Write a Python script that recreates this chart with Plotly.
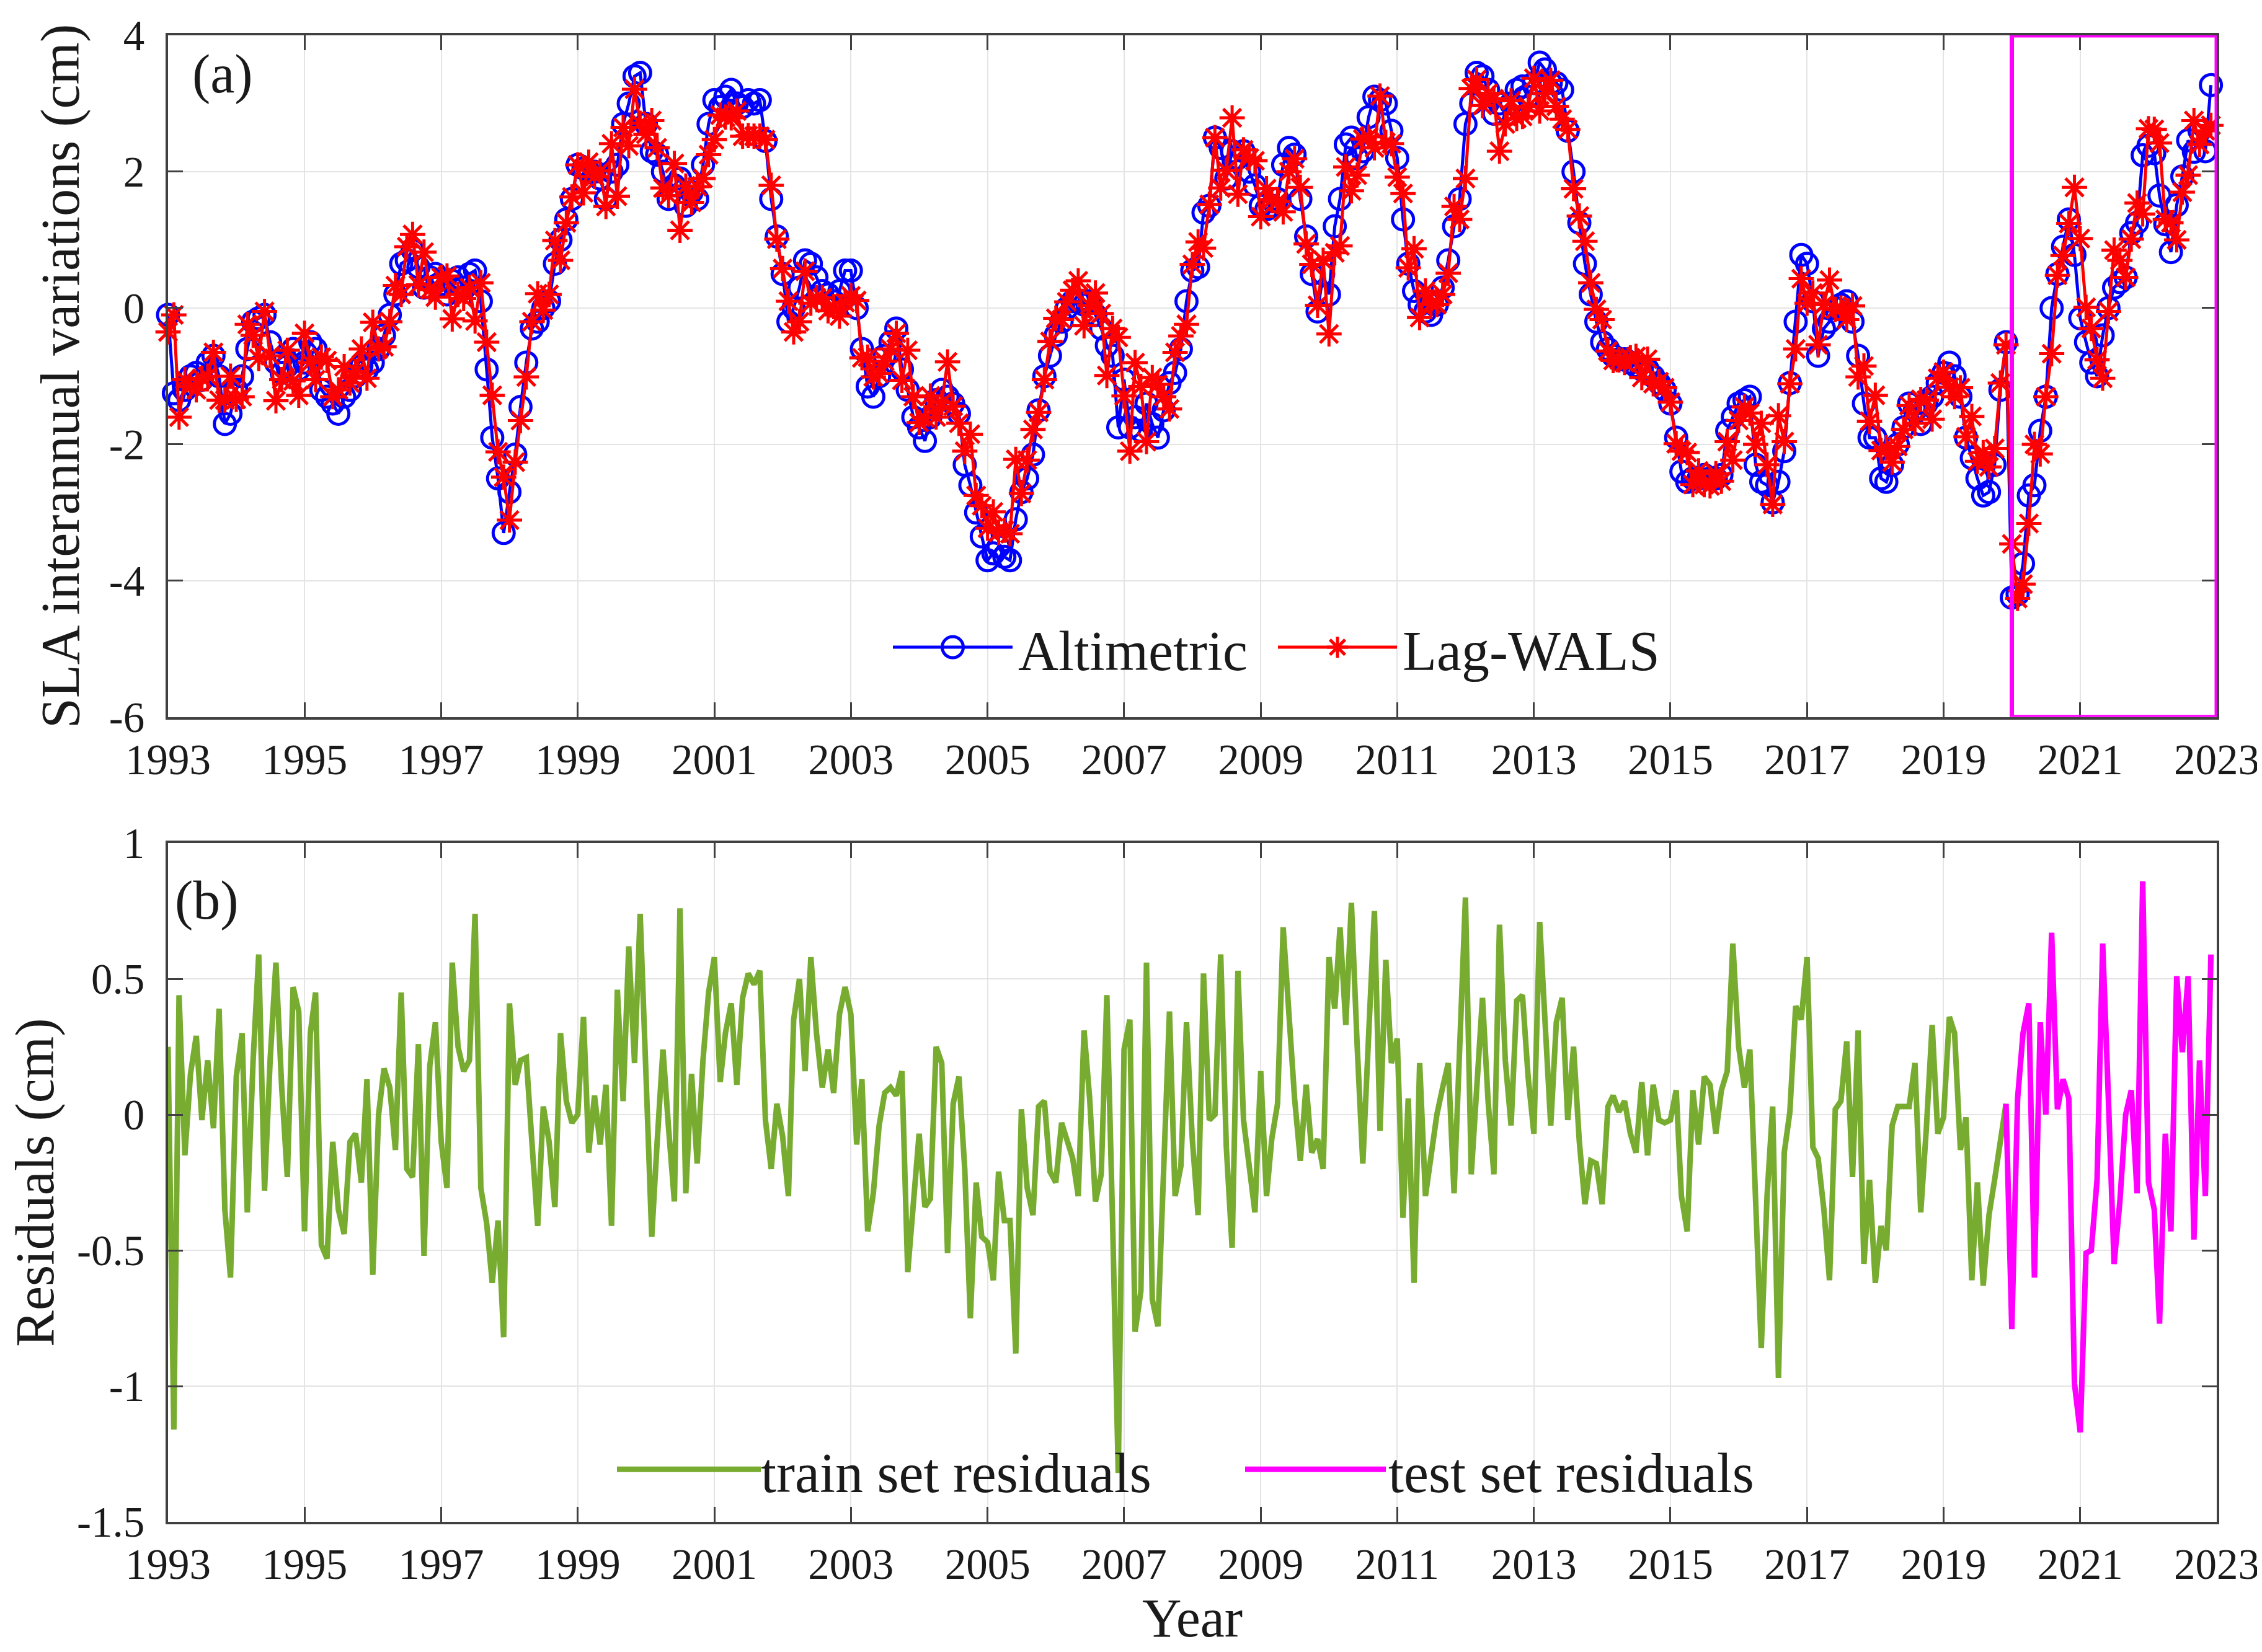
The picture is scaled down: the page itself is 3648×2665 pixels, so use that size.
import pandas as pd
import plotly.graph_objects as go

# monthly SLA interannual variations (cm), Jan 1993 - Dec 2022
altimetric = [
    -0.10, -1.25, -1.35, -1.20, -1.00, -0.95, -1.05, -0.80, -0.70, -1.00, -1.70, -1.55,  # 1993
    -1.20, -1.00, -0.60, -0.20, -0.15, -0.10, -0.50, -0.80, -0.95, -0.85, -0.60, -0.90,  # 1994
    -0.80, -0.50, -0.60, -1.20, -1.30, -1.40, -1.55, -1.30, -1.20, -1.00, -0.85, -0.90,  # 1995
    -0.80, -0.60, -0.40, -0.10, 0.20, 0.65, 0.70, 0.85, 0.60, 0.30, 0.45, 0.50,  # 1996
    0.35, 0.20, 0.40, 0.45, 0.30, 0.50, 0.55, 0.10, -0.90, -1.90, -2.50, -3.30,  # 1997
    -2.70, -2.15, -1.45, -0.80, -0.30, -0.20, 0.00, 0.10, 0.65, 1.00, 1.30, 1.60,  # 1998
    2.10, 2.05, 2.00, 2.00, 1.90, 1.60, 2.00, 2.10, 2.70, 3.00, 3.40, 3.45,  # 1999
    2.70, 2.30, 2.25, 2.00, 1.60, 1.80, 1.90, 1.50, 1.70, 1.60, 2.10, 2.70,  # 2000
    3.05, 2.95, 3.10, 3.20, 3.00, 2.95, 3.05, 3.00, 3.05, 2.45, 1.60, 1.05,  # 2001
    0.50, -0.20, 0.00, 0.30, 0.70, 0.65, 0.45, 0.25, 0.20, 0.10, 0.25, 0.55,  # 2002
    0.55, 0.00, -0.60, -1.15, -1.30, -1.00, -0.70, -0.50, -0.30, -0.90, -1.20, -1.60,  # 2003
    -1.75, -1.95, -1.60, -1.35, -1.20, -1.30, -1.40, -1.55, -2.30, -2.60, -3.00, -3.35,  # 2004
    -3.70, -3.60, -3.50, -3.65, -3.70, -3.10, -2.70, -2.50, -2.15, -1.50, -1.00, -0.70,  # 2005
    -0.40, -0.20, 0.00, 0.10, 0.10, 0.05, 0.10, -0.10, -0.30, -0.55, -0.70, -1.75,  # 2006
    -1.05, -1.75, -1.60, -1.80, -1.40, -1.70, -1.90, -1.50, -1.10, -0.95, -0.60, 0.10,  # 2007
    0.55, 0.60, 1.40, 1.50, 2.50, 2.35, 1.90, 2.30, 2.20, 2.30, 2.00, 1.80,  # 2008
    1.50, 1.45, 1.50, 1.60, 2.10, 2.35, 2.25, 1.60, 1.05, 0.50, -0.05, 0.50,  # 2009
    0.20, 1.20, 1.60, 2.40, 2.50, 2.20, 2.30, 2.80, 3.10, 3.05, 3.00, 2.60,  # 2010
    2.20, 1.30, 0.65, 0.25, 0.05, -0.05, -0.10, 0.05, 0.30, 0.70, 1.20, 1.60,  # 2011
    2.70, 3.00, 3.45, 3.40, 3.20, 2.85, 3.00, 2.90, 3.00, 3.20, 3.25, 3.10,  # 2012
    3.30, 3.60, 3.50, 3.30, 3.30, 3.20, 2.60, 2.00, 1.25, 0.65, 0.20, -0.20,  # 2013
    -0.50, -0.60, -0.70, -0.75, -0.75, -0.80, -0.85, -0.90, -0.90, -1.00, -1.10, -1.20,  # 2014
    -1.40, -1.90, -2.40, -2.55, -2.50, -2.50, -2.45, -2.50, -2.50, -2.45, -1.80, -1.60,  # 2015
    -1.40, -1.35, -1.30, -2.30, -2.55, -2.60, -2.85, -2.55, -2.10, -1.10, -0.20, 0.78,  # 2016
    0.65, 0.10, -0.70, -0.30, -0.20, 0.00, 0.05, 0.10, -0.20, -0.70, -1.40, -1.90,  # 2017
    -1.90, -2.50, -2.55, -2.30, -2.00, -1.75, -1.40, -1.50, -1.70, -1.40, -1.30, -1.10,  # 2018
    -0.95, -0.80, -1.00, -1.30, -1.90, -2.20, -2.50, -2.75, -2.70, -2.30, -1.20, -0.50,  # 2019
    -4.25, -4.20, -3.75, -2.75, -2.60, -1.80, -1.30, 0.00, 0.50, 0.90, 1.30, 0.78,  # 2020
    -0.15, -0.50, -0.80, -1.00, -0.40, 0.00, 0.30, 0.38, 0.45, 1.10, 1.25, 2.24,  # 2021
    2.38, 2.27, 1.65, 1.23, 0.82, 1.51, 1.93, 2.46, 2.29, 2.60, 2.30, 3.27,  # 2022
]

lag_wals = [
    -0.35, -0.10, -1.60, -1.05, -1.15, -1.20, -1.03, -1.00, -0.65, -1.35, -1.35, -1.00,  # 1993
    -1.34, -1.30, -0.24, -0.40, -0.74, -0.05, -0.70, -1.36, -1.05, -0.62, -1.07, -1.28,  # 1994
    -0.37, -0.80, -1.05, -0.72, -0.77, -1.30, -1.20, -0.86, -1.10, -0.93, -0.60, -1.03,  # 1995
    -0.21, -0.60, -0.57, -0.20, 0.33, 0.20, 0.90, 1.08, 0.34, 0.82, 0.27, 0.16,  # 1996
    0.45, 0.47, -0.16, 0.20, 0.14, 0.30, -0.19, 0.37, -0.50, -1.28, -2.11, -2.48,  # 1997
    -3.11, -2.26, -1.65, -1.01, -0.20, 0.21, -0.03, 0.20, 0.99, 0.70, 1.25, 1.63,  # 1998
    2.10, 1.69, 2.14, 1.93, 2.01, 1.49, 2.41, 1.64, 2.65, 2.38, 3.21, 2.71,  # 1999
    2.55, 2.75, 2.35, 1.76, 1.65, 2.12, 1.14, 1.79, 1.55, 1.78, 1.90, 2.25,  # 2000
    2.47, 2.83, 2.80, 2.79, 2.89, 2.52, 2.53, 2.52, 2.52, 2.47, 1.80, 1.01,  # 2001
    0.58, 0.10, -0.35, -0.20, 0.54, 0.07, 0.15, 0.15, -0.04, 0.02, -0.12, 0.08,  # 2002
    0.18, 0.11, -0.73, -0.72, -1.01, -0.96, -0.78, -0.60, -0.37, -1.06, -0.62, -1.30,  # 2003
    -1.68, -1.61, -1.29, -1.60, -1.39, -0.79, -1.44, -1.69, -2.10, -1.85, -2.75, -2.90,  # 2004
    -3.23, -2.99, -3.29, -3.26, -3.31, -2.22, -2.72, -2.23, -1.78, -1.53, -1.05, -0.49,  # 2005
    -0.15, -0.17, 0.09, 0.26, 0.40, -0.26, 0.04, 0.22, -0.08, -0.99, -0.30, -0.43,  # 2006
    -1.29, -2.10, -0.80, -1.15, -1.96, -1.02, -1.12, -1.30, -1.48, -0.65, -0.41, -0.24,  # 2007
    0.64, 0.97, 0.88, 1.52, 2.50, 1.76, 2.02, 2.79, 1.67, 2.32, 2.20, 2.16,  # 2008
    1.34, 1.75, 1.59, 1.56, 1.41, 2.00, 2.19, 1.77, 0.94, 0.64, 0.04, 0.70,  # 2009
    -0.38, 0.81, 0.91, 2.07, 1.72, 1.95, 2.48, 2.51, 2.35, 3.11, 2.43, 2.41,  # 2010
    1.92, 1.68, 0.59, 0.87, -0.14, 0.25, 0.06, 0.05, 0.20, 0.51, 1.49, 1.30,  # 2011
    1.90, 3.22, 3.35, 2.97, 3.15, 3.07, 2.30, 2.70, 3.04, 2.78, 2.81, 2.96,  # 2012
    3.37, 2.89, 3.15, 3.34, 2.96, 2.77, 2.62, 1.75, 1.35, 0.98, 0.37, -0.02,  # 2013
    -0.17, -0.63, -0.77, -0.76, -0.80, -0.73, -0.71, -1.02, -0.75, -1.11, -1.08, -1.17,  # 2014
    -1.38, -1.99, -2.10, -2.12, -2.59, -2.39, -2.59, -2.61, -2.43, -2.54, -1.96, -2.23,  # 2015
    -1.65, -1.45, -1.54, -2.00, -1.69, -2.30, -2.88, -1.58, -1.96, -1.11, -0.60, 0.43,  # 2016
    0.07, 0.22, -0.54, 0.05, 0.41, -0.02, 0.00, -0.17, 0.03, -1.01, -0.85, -1.66,  # 2017
    -1.28, -2.09, -2.05, -2.26, -2.03, -1.78, -1.43, -1.69, -1.34, -1.35, -1.63, -1.03,  # 2018
    -0.94, -1.16, -1.30, -1.17, -1.89, -1.59, -2.25, -2.12, -2.33, -2.06, -1.10, -0.54,  # 2019
    -3.46, -4.26, -4.05, -3.16, -2.00, -2.14, -1.30, -0.67, 0.48, 0.77, 1.24, 1.77,  # 2020
    1.02, 0.01, -0.30, -0.76, -1.03, -0.05, 0.85, 0.70, 0.45, 1.01, 1.54, 1.38,  # 2021
    2.63, 2.62, 2.42, 1.30, 1.25, 1.00, 1.70, 1.95, 2.75, 2.40, 2.60, 2.68,  # 2022
]

# residuals (cm), train: Jan 1993 - Dec 2019, test: Jan 2020 - Dec 2022
train_residuals = [
    0.25, -1.16, 0.44, -0.15, 0.15, 0.29, -0.02, 0.20, -0.05, 0.39, -0.35, -0.60,  # 1993
    0.14, 0.30, -0.36, 0.20, 0.59, -0.28, 0.20, 0.56, 0.10, -0.23, 0.47, 0.38,  # 1994
    -0.43, 0.30, 0.45, -0.48, -0.53, -0.10, -0.35, -0.44, -0.10, -0.07, -0.25, 0.13,  # 1995
    -0.59, 0.00, 0.17, 0.10, -0.13, 0.45, -0.20, -0.23, 0.26, -0.52, 0.18, 0.34,  # 1996
    -0.10, -0.27, 0.56, 0.25, 0.16, 0.20, 0.74, -0.27, -0.40, -0.62, -0.39, -0.82,  # 1997
    0.41, 0.11, 0.20, 0.21, -0.10, -0.41, 0.03, -0.10, -0.34, 0.30, 0.05, -0.03,  # 1998
    0.00, 0.36, -0.14, 0.07, -0.11, 0.11, -0.41, 0.46, 0.05, 0.62, 0.19, 0.74,  # 1999
    0.15, -0.45, -0.10, 0.24, -0.05, -0.32, 0.76, -0.29, 0.15, -0.18, 0.20, 0.45,  # 2000
    0.58, 0.12, 0.30, 0.41, 0.11, 0.43, 0.52, 0.48, 0.53, -0.02, -0.20, 0.04,  # 2001
    -0.08, -0.30, 0.35, 0.50, 0.16, 0.58, 0.30, 0.10, 0.24, 0.08, 0.37, 0.47,  # 2002
    0.37, -0.11, 0.13, -0.43, -0.29, -0.04, 0.08, 0.10, 0.07, 0.16, -0.58, -0.30,  # 2003
    -0.07, -0.34, -0.31, 0.25, 0.19, -0.51, 0.04, 0.14, -0.20, -0.75, -0.25, -0.45,  # 2004
    -0.47, -0.61, -0.21, -0.39, -0.39, -0.88, 0.02, -0.27, -0.37, 0.03, 0.05, -0.21,  # 2005
    -0.25, -0.03, -0.09, -0.16, -0.30, 0.31, 0.06, -0.32, -0.22, 0.44, -0.40, -1.32,  # 2006
    0.24, 0.35, -0.80, -0.65, 0.56, -0.68, -0.78, -0.20, 0.38, -0.30, -0.19, 0.34,  # 2007
    -0.09, -0.37, 0.52, -0.02, 0.00, 0.59, -0.12, -0.49, 0.53, -0.02, -0.20, -0.36,  # 2008
    0.16, -0.30, -0.09, 0.04, 0.69, 0.35, 0.06, -0.17, 0.11, -0.14, -0.09, -0.20,  # 2009
    0.58, 0.39, 0.69, 0.33, 0.78, 0.25, -0.18, 0.29, 0.75, -0.06, 0.57, 0.19,  # 2010
    0.28, -0.38, 0.06, -0.62, 0.19, -0.30, -0.16, 0.00, 0.10, 0.19, -0.29, 0.30,  # 2011
    0.80, -0.22, 0.10, 0.43, 0.05, -0.22, 0.70, 0.20, -0.04, 0.42, 0.44, 0.14,  # 2012
    -0.07, 0.71, 0.35, -0.04, 0.34, 0.43, -0.02, 0.25, -0.10, -0.33, -0.17, -0.18,  # 2013
    -0.33, 0.03, 0.07, 0.01, 0.05, -0.07, -0.14, 0.12, -0.15, 0.11, -0.02, -0.03,  # 2014
    -0.02, 0.09, -0.30, -0.43, 0.09, -0.11, 0.14, 0.11, -0.07, 0.09, 0.16, 0.63,  # 2015
    0.25, 0.10, 0.24, -0.30, -0.86, -0.30, 0.03, -0.97, -0.14, 0.01, 0.40, 0.35,  # 2016
    0.58, -0.12, -0.16, -0.35, -0.61, 0.02, 0.05, 0.27, -0.23, 0.31, -0.55, -0.24,  # 2017
    -0.62, -0.41, -0.50, -0.04, 0.03, 0.03, 0.03, 0.19, -0.36, -0.05, 0.33, -0.07,  # 2018
    -0.01, 0.36, 0.30, -0.13, -0.01, -0.61, -0.25, -0.63, -0.37, -0.24, -0.10, 0.04,  # 2019
]

test_residuals = [
    -0.79, 0.06, 0.30, 0.41, -0.60, 0.34, 0.00, 0.67, 0.02, 0.13, 0.06, -0.99,  # 2020
    -1.17, -0.51, -0.50, -0.24, 0.63, 0.05, -0.55, -0.32, 0.00, 0.09, -0.29, 0.86,  # 2021
    -0.25, -0.35, -0.77, -0.07, -0.43, 0.51, 0.23, 0.51, -0.46, 0.20, -0.30, 0.59,  # 2022
]

year_ticks = list(range(1993, 2024, 2))
sla_ticks = [-6, -4, -2, 0, 2, 4]
res_ticks = [-1.5, -1, -0.5, 0, 0.5, 1]
test_start, test_end = "2020-01-01", "2023-01-01"

FONT = "Liberation Serif"
BLUE, RED, GREEN, MAGENTA = "#0000FF", "#FF0000", "#77AC30", "#FF00FF"
W, H = 3648, 2665
ML, MR, MT, MB = 263, 81, 42, 218

months = pd.date_range("1993-01-01", periods=len(altimetric), freq="MS")
n_train = len(train_residuals)


def px_x(px):
    # page pixel -> paper x
    return (px - ML) / (W - ML - MR)


def px_y(py):
    return (H - MB - py) / (H - MT - MB)


fig = go.Figure()

# (a) altimetric vs Lag-WALS
fig.add_trace(go.Scatter(
    x=months, y=altimetric, mode="lines+markers", name="Altimetric",
    line=dict(color=BLUE, width=5),
    marker=dict(symbol="circle-open", size=34, color=BLUE, line=dict(width=5)),
    xaxis="x", yaxis="y", cliponaxis=False
))
fig.add_trace(go.Scatter(
    x=months, y=lag_wals, mode="lines+markers", name="Lag-WALS",
    line=dict(color=RED, width=5),
    marker=dict(symbol="asterisk-open", size=34, color=RED, line=dict(width=5, color=RED)),
    xaxis="x", yaxis="y", cliponaxis=False
))

# (b) residuals
fig.add_trace(go.Scatter(
    x=months[:n_train], y=train_residuals, mode="lines", name="train set residuals",
    line=dict(color=GREEN, width=9), xaxis="x2", yaxis="y2"
))
fig.add_trace(go.Scatter(
    x=months[n_train - 1:], y=[train_residuals[-1]] + test_residuals, mode="lines",
    name="test set residuals",
    line=dict(color=MAGENTA, width=9), xaxis="x2", yaxis="y2"
))

axis_style = dict(
    showline=True, linecolor="#404040", linewidth=4, mirror="ticks",
    ticks="inside", ticklen=24, tickwidth=3, tickcolor="#404040",
    showgrid=True, gridcolor="#e4e4e4", gridwidth=2, zeroline=False,
    tickfont=dict(family=FONT, size=69, color="#1a1a1a"),
)
x_style = dict(
    axis_style, type="date", range=["1993-01-01", "2023-01-01"],
    tickvals=[f"{y}-01-01" for y in year_ticks], ticktext=[str(y) for y in year_ticks],
    ticklabelstandoff=5,
)

shapes = [dict(
    type="rect", xref="x", yref="y", x0=test_start, x1=test_end, y0=-6, y1=4,
    line=dict(color=MAGENTA, width=7), layer="above",
)]
annotations = [
    dict(text="(a)", xref="paper", yref="paper", x=px_x(300), y=px_y(105),
         xanchor="left", yanchor="middle", showarrow=False,
         font=dict(family=FONT, size=88, color="#1a1a1a")),
    dict(text="(b)", xref="paper", yref="paper", x=px_x(272), y=px_y(1442),
         xanchor="left", yanchor="middle", showarrow=False,
         font=dict(family=FONT, size=88, color="#1a1a1a")),
]


def legend_key(x0, x1, y, color, width, label, text_x, marker=None):
    # long MATLAB-style legend sample: line, optional marker in the middle, label
    shapes.append(dict(type="line", xref="paper", yref="paper",
                       x0=px_x(x0), x1=px_x(x1), y0=px_y(y), y1=px_y(y),
                       line=dict(color=color, width=width)))
    xm, r = (x0 + x1) / 2, 17
    base = dict(xref="paper", yref="paper", xsizemode="pixel", ysizemode="pixel",
                xanchor=px_x(xm), yanchor=px_y(y), line=dict(color=color, width=5))
    if marker == "circle":
        shapes.append(dict(base, type="circle", x0=-r, x1=r, y0=-r, y1=r))
    elif marker == "asterisk":
        d = r * 0.72
        for a, b, c, e in [(-r, 0, r, 0), (0, -r, 0, r), (-d, -d, d, d), (-d, d, d, -d)]:
            shapes.append(dict(base, type="line", x0=a, y0=b, x1=c, y1=e))
    annotations.append(dict(text=label, xref="paper", yref="paper",
                            x=px_x(text_x), y=px_y(y + 6), xanchor="left", yanchor="middle",
                            showarrow=False, font=dict(family=FONT, size=90, color="#1a1a1a")))


legend_key(1432, 1625, 1032, BLUE, 5, "Altimetric", 1632, marker="circle")
legend_key(2053, 2245, 1032, RED, 5, "Lag-WALS", 2252, marker="asterisk")
legend_key(987, 1219, 2362, GREEN, 9, "train set residuals", 1217)
legend_key(2000, 2227, 2362, MAGENTA, 9, "test set residuals", 2229)

fig.update_layout(
    width=W, height=H,
    paper_bgcolor="white", plot_bgcolor="white",
    margin=dict(l=ML, r=MR, t=MT, b=MB),
    font=dict(family=FONT, color="#1a1a1a"),
    showlegend=False,
    xaxis=dict(x_style, domain=[0, 1], anchor="y"),
    yaxis=dict(
        axis_style, domain=[px_y(1145), 1], anchor="x", range=[-6, 4],
        tickvals=sla_ticks, ticktext=[str(v) for v in sla_ticks], ticklabelstandoff=20,
        title=dict(text="SLA interannual variations (cm)", font=dict(family=FONT, size=88), standoff=20),
    ),
    xaxis2=dict(
        x_style, domain=[0, 1], anchor="y2",
        title=dict(text="Year", font=dict(family=FONT, size=88), standoff=12),
    ),
    yaxis2=dict(
        axis_style, domain=[0, px_y(1349)], anchor="x2", range=[-1.5, 1],
        tickvals=res_ticks, ticktext=[f"{v:g}" for v in res_ticks], ticklabelstandoff=20,
        title=dict(text="Residuals (cm)", font=dict(family=FONT, size=88), standoff=32),
    ),
    shapes=shapes,
    annotations=annotations,
)

fig.write_html("out.html")
